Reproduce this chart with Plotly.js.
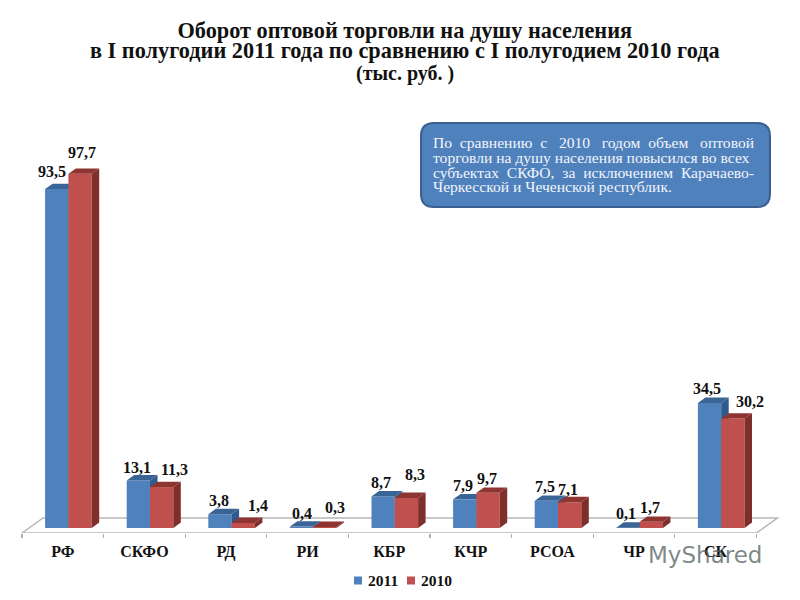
<!DOCTYPE html>
<html>
<head>
<meta charset="utf-8">
<script src="https://cdn.plot.ly/plotly-3.0.1.min.js"></script>
<style>html,body{margin:0;padding:0;background:#fff}#c{width:800px;height:600px}</style>
</head>
<body>
<div id="c"></div>
<script>
const categories = ['РФ','СКФО','РД','РИ','КБР','КЧР','РСОА','ЧР','СК'];
const values2011 = [93.5,13.1,3.8,0.4,8.7,7.9,7.5,0.1,34.5];
const values2010 = [97.7,11.3,1.4,0.3,8.3,9.7,7.1,1.7,30.2];
const labelShift2011X = [-5,-1,-1,0,-2,-2,-1,-2,-2.5];
const labelShift2011Y = [18,13.5,14,13.5,13.5,13.4,14,14,14];
const labelShift2010X = [2,13,15,10,9,-1,-2,-1,17];
const labelShift2010Y = [21,18,17,19,23,14,13,14,17.5];
const noteLines = [
  'По\u00A0\u00A0сравнению\u00A0\u00A0с\u00A0\u00A0\u00A02010\u00A0\u00A0\u00A0годом\u00A0\u00A0объем\u00A0\u00A0\u00A0оптовой',
  'торговли на душу населения повысился во всех',
  'субъектах\u00A0\u00A0СКФО,\u00A0\u00A0за\u00A0\u00A0исключением\u00A0\u00A0Карачаево-',
  'Черкесской и Чеченской республик.'
];
const titleLines = ['Оборот оптовой торговли на душу населения','в I полугодии 2011 года по сравнению с I полугодием 2010 года','(тыс. руб. )'];

const W = 800, H = 600, mT = 100, mB = 67;
const step = 81.6, pxPerUnit = 3.625, zeroPx = 528;
const x0px = 62.8;
const xRange = [-x0px/step, (W-x0px)/step];
const yRange = [(zeroPx-(H-mB))/pxPerUnit, (zeroPx-mT)/pxPerUnit];
const shift = 5.6/step, bw = 23.3/step, dx = 7.5/step, dy = 5.4/pxPerUnit;
const idx = categories.map((_,i)=>i);
const serif = '"Liberation Serif", serif';
const txt = '#111111';

function faces(vals, off, which){
  const xs=[], ys=[];
  vals.forEach((v,i)=>{
    const l=i+shift+off, r=l+bw;
    if(which==='top'){ xs.push(l,r,r+dx,l+dx,l,null); ys.push(v,v,v+dy,v+dy,v,null); }
    else { xs.push(r,r+dx,r+dx,r,r,null); ys.push(0,dy,v+dy,v,0,null); }
  });
  return {x:xs,y:ys};
}
function face(vals,off,which,color,xa,ya){
  const f=faces(vals,off,which);
  return {type:'scatter',mode:'lines',x:f.x,y:f.y,fill:'toself',fillcolor:color,line:{width:0,color:color},
    hoverinfo:'skip',showlegend:false,xaxis:xa,yaxis:ya};
}
function bar(vals,off,color,name,xa,ya){
  return {type:'bar',name:name,x:idx,y:vals,width:bw,offset:shift+off,marker:{color:color,line:{width:0}},
    showlegend:false,xaxis:xa,yaxis:ya};
}
const traces=[
  bar(values2011,-bw,'#4F81BD','2011','x','y'),
  face(values2011,-bw,'side','#2F5A8C','x','y'),
  face(values2011,-bw,'top','#3A6496','x','y'),
  bar(values2010,0,'#C0504D','2010','x2','y2'),
  face(values2010,0,'side','#7E2E2B','x2','y2'),
  face(values2010,0,'top','#8E3431','x2','y2')
];

const fmt=v=>v.toFixed(1).replace('.',',');
const annotations=[];
const labelFont={family:serif,size:16,color:txt,weight:'bold'};
values2011.forEach((v,i)=>annotations.push({x:i+shift-bw/2,y:v,xref:'x',yref:'y',text:fmt(v),showarrow:false,
  xshift:labelShift2011X[i],yshift:labelShift2011Y[i],font:labelFont}));
values2010.forEach((v,i)=>annotations.push({x:i+shift+bw/2,y:v,xref:'x',yref:'y',text:fmt(v),showarrow:false,
  xshift:labelShift2010X[i],yshift:labelShift2010Y[i],font:labelFont}));

const px=p=>p/W, py=p=>(H-mB-p)/(H-mT-mB);
[142,157,172,186].forEach((yp,i)=>annotations.push({xref:'paper',yref:'paper',x:px(431),y:py(yp),xanchor:'left',yanchor:'middle',
  text:noteLines[i],showarrow:false,font:{family:serif,size:15.6,color:'#F2F5FA'}}));
annotations.push({xref:'paper',yref:'paper',x:px(405),y:py(51),xanchor:'center',yanchor:'middle',text:titleLines[1],showarrow:false,font:{family:serif,size:22.3,color:txt,weight:'bold'}});
annotations.push({xref:'paper',yref:'paper',x:px(405),y:py(74),xanchor:'center',yanchor:'middle',text:titleLines[2],showarrow:false,font:{family:serif,size:20,color:txt,weight:'bold'}});
annotations.push({xref:'paper',yref:'paper',x:px(366),y:py(580.5),xanchor:'left',yanchor:'middle',text:'2011',showarrow:false,font:{family:serif,size:15.5,color:txt,weight:'bold'}});
annotations.push({xref:'paper',yref:'paper',x:px(419),y:py(580.5),xanchor:'left',yanchor:'middle',text:'2010',showarrow:false,font:{family:serif,size:15.5,color:txt,weight:'bold'}});
annotations.push({xref:'paper',yref:'paper',x:px(705),y:py(555),xanchor:'center',yanchor:'middle',text:'MyShared',showarrow:false,font:{family:'"DejaVu Sans", sans-serif',size:23,color:'rgba(85,95,95,0.75)'}});

function roundRect(l,t,r,b,c){
  return `M${px(l+c)},${py(t)} L${px(r-c)},${py(t)} Q${px(r)},${py(t)} ${px(r)},${py(t+c)} L${px(r)},${py(b-c)} Q${px(r)},${py(b)} ${px(r-c)},${py(b)} L${px(l+c)},${py(b)} Q${px(l)},${py(b)} ${px(l)},${py(b-c)} L${px(l)},${py(t+c)} Q${px(l)},${py(t)} ${px(l+c)},${py(t)} Z`;
}
const floorFront = yRange[0], floorBack = 2.76, floorDx = 21/step, L=-0.5, R=8.5;
const shapes=[
  {type:'path',layer:'below',xref:'x',yref:'y',path:`M${L},${floorFront} L${L+floorDx},${floorBack} L${R+floorDx},${floorBack} L${R},${floorFront} Z`,
    line:{color:'#B8B8B8',width:1.5},fillcolor:'#FFFFFF'},
  {type:'path',layer:'above',xref:'paper',yref:'paper',path:roundRect(421,123,770,207,13),line:{color:'#3A6090',width:2},fillcolor:'#4F81BD'},
  {type:'rect',layer:'above',xref:'paper',yref:'paper',x0:px(354),x1:px(362),y0:py(584.5),y1:py(576.5),line:{width:0},fillcolor:'#4F81BD'},
  {type:'rect',layer:'above',xref:'paper',yref:'paper',x0:px(407),x1:px(415),y0:py(584.5),y1:py(576.5),line:{width:0},fillcolor:'#C0504D'}
];
const layout={
  width:W,height:H,paper_bgcolor:'#fff',plot_bgcolor:'rgba(0,0,0,0)',showlegend:false,
  margin:{l:0,r:0,t:mT,b:mB,pad:0},barmode:'overlay',
  title:{text:titleLines[0],x:0.506,xanchor:'center',y:1-30/H,yanchor:'middle',font:{family:serif,size:22.3,color:txt,weight:'bold'}},
  xaxis:{type:'linear',range:xRange,fixedrange:true,showgrid:false,zeroline:false,showline:false,
    tickmode:'array',tickvals:idx,ticktext:categories,ticks:'',ticklabelstandoff:7,
    tickfont:{family:serif,size:16,color:txt,weight:'bold'},
    minor:{tickmode:'array',tickvals:[-0.5,0.5,1.5,2.5,3.5,4.5,5.5,6.5,7.5,8.5],ticks:'outside',ticklen:4,tickwidth:1.3,tickcolor:'#B0B0B0',showgrid:false}},
  yaxis:{type:'linear',range:yRange,visible:false,fixedrange:true},
  xaxis2:{type:'linear',range:xRange,overlaying:'x',visible:false,fixedrange:true},
  yaxis2:{type:'linear',range:yRange,overlaying:'y',visible:false,fixedrange:true},
  annotations,shapes
};
Plotly.newPlot('c',traces,layout,{displayModeBar:false,staticPlot:true});
</script>
</body>
</html>
